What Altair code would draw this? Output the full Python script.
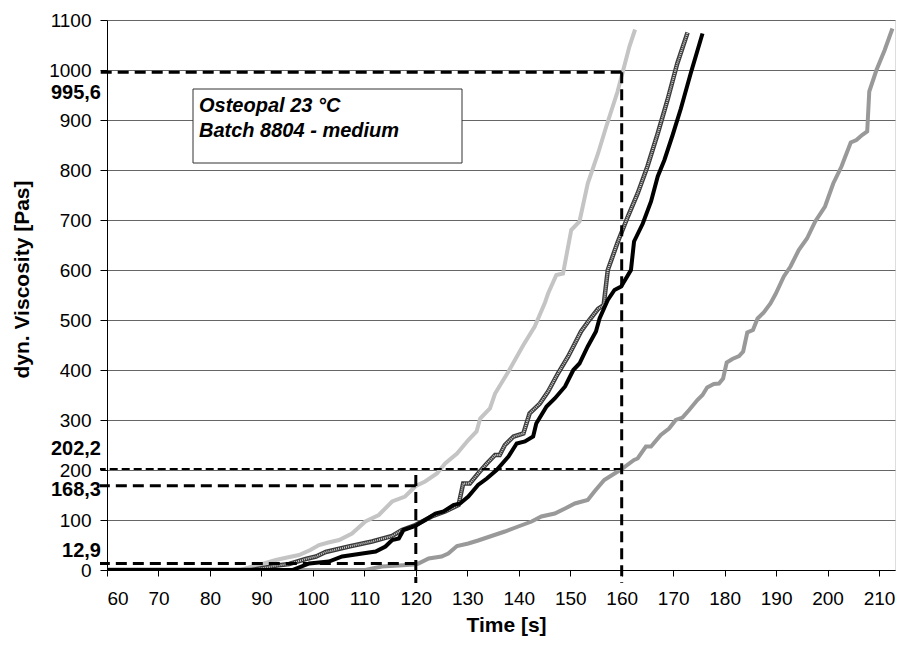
import altair as alt
import pandas as pd

# ---- data ----
lg_t = [60, 86, 88.3, 90.5, 92.8, 95, 97.3, 99.5, 101.2, 103, 105.1, 107.6, 110.2, 112.8, 115.4, 117.9,
        120, 121.8, 124.1, 125.7, 128.0, 130.2, 131.8, 132.5, 134.4, 135.4, 138.0, 140.9, 143.1, 145.1,
        145.7, 147.3, 148.6, 150.2, 151.8, 153.4, 155.4, 157.0, 159.2, 160.2, 161.5, 162.6]
lg_v = [0, 0, 7, 13, 20, 25, 30, 40, 50, 55, 60, 73, 97, 110, 137, 147,
        168, 177, 193, 213, 233, 260, 277, 303, 323, 353, 397, 450, 487, 535,
        553, 590, 593, 680, 697, 773, 833, 887, 957, 996, 1047, 1081]

ht_t = [60, 88, 90.9, 93, 95.4, 98.6, 100.6, 102.5, 107, 111.5, 115.4, 117.3, 119.9, 123.1, 125.7,
        128.3, 129.2, 130.5, 132.1, 133.8, 135.4, 136.3, 137.3, 139.0, 140.9, 142.1, 144.1, 145.7,
        147.6, 149.6, 150.9, 152.1, 153.7, 155.4, 156.5, 157.3, 159.2, 161.2, 163.1, 165.0, 167.0,
        168.9, 170.8, 172.8]
ht_v = [0, 0, 5, 9, 12, 22, 27, 36, 47, 57, 68, 80, 90, 107, 117,
        130, 173, 173, 193, 213, 230, 230, 250, 267, 273, 313, 333, 357,
        393, 427, 453, 477, 500, 522, 530, 600, 655, 707, 753, 807, 873,
        940, 1013, 1075]

bk_t = [60, 96, 99.3, 103.1, 105.7, 109.6, 112.2, 114.1, 115.4, 116.7, 117.6, 119.9, 121.8, 123.8,
        125.4, 127.3, 128.6, 130.2, 132.1, 133.8, 135.7, 138.0, 139.6, 141.2, 142.8, 143.4, 145.4,
        147.0, 149.0, 150.6, 151.8, 153.4, 155.0, 155.7, 157.3, 158.6, 159.9, 161.8, 162.4, 164.1,
        165.7, 167.0, 168.3, 169.9, 171.5, 173.4, 175.7]
bk_v = [0, 0, 13, 17, 27, 33, 37, 47, 60, 63, 80, 88, 100, 113,
        117, 130, 133, 147, 170, 183, 200, 227, 253, 257, 267, 293, 327,
        343, 367, 400, 413, 447, 477, 503, 540, 560, 567, 600, 657, 693,
        737, 787, 820, 870, 923, 993, 1073]

mg_t = [60, 110.2, 113.4, 116.7, 119.6, 120.5, 122.5, 125.0, 126.3, 128.0, 130.2, 132.1, 134.7, 137.3,
        139.9, 142.5, 144.4, 147.0, 149.0, 150.9, 153.4, 154.7, 156.6, 160.0, 162.4, 163.1, 164.7,
        165.7, 167.6, 169.2, 170.5, 171.8, 173.1, 174.7, 175.7, 176.6, 177.9, 178.9, 179.7, 180.4,
        181.5, 182.8, 183.6, 184.4, 185.5, 186.4, 187.6, 188.9, 189.9, 191.5, 192.8, 194.4, 196.0,
        197.6, 199.5, 201.1, 202.7, 204.5, 205.6, 206.7, 207.7, 208.1, 209.5, 211.1, 212.6]
mg_v = [0, 0, 7, 9, 11, 13, 23, 27, 33, 48, 53, 59, 68, 77,
        87, 97, 107, 113, 123, 133, 140, 157, 180, 202, 220, 223, 247,
        247, 270, 283, 300, 305, 320, 340, 350, 365, 372, 373, 383, 415,
        422, 428, 437, 475, 480, 503, 515, 533, 552, 587, 607, 640, 663,
        697, 727, 773, 807, 855, 860, 870, 877, 957, 1000, 1040, 1083]

# reference lines
href_t = [160, 160, 120, 120]
href_v = [995.6, 202.2, 168.3, 12.9]
href_label = ["995,6", "202,2", "168,3", "12,9"]
vref_t = [160, 120]
vref_top = [995.6, 190]

x_ticks = list(range(60, 211, 10))
y_ticks = list(range(0, 1101, 100))
box_lines = ["Osteopal 23 °C", "Batch 8804 - medium"]

FONT = "Liberation Sans"

xs = alt.Scale(domain=[60, 213.1], nice=False, zero=False)
ys = alt.Scale(domain=[0, 1100], nice=False)

x_axis = alt.Axis(values=x_ticks, format="d", grid=False, tickSize=6, tickColor="black",
                  domainColor="black", labelFontSize=19, labelColor="black", labelPadding=13,
                  labelFont=FONT, title="Time [s]", titleFontSize=21, titleFontWeight="bold",
                  titleFont=FONT, titleColor="black", titleX=399, titleY=61,
                  titleBaseline="alphabetic")
y_axis = alt.Axis(values=y_ticks, format="d", grid=True, gridColor="#666666", gridWidth=1, tickSize=7,
                  tickColor="black", domainColor="black", labelFontSize=19, labelColor="black",
                  labelPadding=9, labelFont=FONT, title="dyn. Viscosity [Pas]", titleFontSize=21,
                  titleFontWeight="bold", titleFont=FONT, titleColor="black", titleX=-85, titleY=259,
                  titleBaseline="middle")


def series(t, v, color, width, dash=None, axes=False):
    df = pd.DataFrame({"t": t, "v": v})
    kw = dict(color=color, strokeWidth=width, clip=True)
    if dash:
        kw["strokeDash"] = dash
    if axes:
        enc = dict(x=alt.X("t:Q", scale=xs, axis=x_axis), y=alt.Y("v:Q", scale=ys, axis=y_axis))
    else:
        enc = dict(x=alt.X("t:Q", scale=xs), y=alt.Y("v:Q", scale=ys))
    return alt.Chart(df).mark_line(**kw).encode(**enc)


one = pd.DataFrame({"a": [0]})
box = alt.Chart(one).mark_rect(fill="white", stroke="#333333", strokeWidth=1).encode(
    x=alt.value(86), x2=alt.value(355), y=alt.value(69), y2=alt.value(143))
box_t1 = alt.Chart(one).mark_text(align="left", baseline="alphabetic", fontSize=20, fontWeight="bold",
                                  fontStyle="italic", font=FONT, color="black").encode(
    x=alt.value(92), y=alt.value(92), text=alt.value(box_lines[0]))
box_t2 = alt.Chart(one).mark_text(align="left", baseline="alphabetic", fontSize=20, fontWeight="bold",
                                  fontStyle="italic", font=FONT, color="black").encode(
    x=alt.value(92), y=alt.value(117), text=alt.value(box_lines[1]))

lg = series(lg_t, lg_v, "#c4c4c4", 4, axes=True)
mg = series(mg_t, mg_v, "#999999", 4)
ht_base = series(ht_t, ht_v, "#3a3a3a", 4.5)
ht_top = series(ht_t, ht_v, "#d0d0d0", 2, dash=[1, 1])
bk = series(bk_t, bk_v, "black", 4)

href_df = pd.DataFrame({"t": href_t, "v": href_v, "label": href_label})
href_styles = [(3, [11, 6]), (2, [8, 4]), (3, [11, 6]), (3, [11, 6])]
label_dy = [21, -20, 4, -13]
hlayers = []
for i in range(len(href_t)):
    d = href_df.iloc[[i]]
    w, dsh = href_styles[i]
    hlayers.append(alt.Chart(d).mark_rule(color="black", strokeWidth=w, strokeDash=dsh).encode(
        x=alt.X("t:Q", scale=xs), x2=alt.value(-7), y=alt.Y("v:Q", scale=ys)))
    hlayers.append(alt.Chart(d).mark_text(align="right", baseline="middle", fontSize=20,
                                          fontWeight="bold", font=FONT, color="black",
                                          dy=label_dy[i]).encode(
        x=alt.value(-6), y=alt.Y("v:Q", scale=ys), text="label:N"))

vref_df = pd.DataFrame({"t": vref_t, "v": vref_top})
vlines = alt.Chart(vref_df).mark_rule(color="black", strokeWidth=3, strokeDash=[11, 6]).encode(
    x=alt.X("t:Q", scale=xs), y=alt.Y("v:Q", scale=ys), y2=alt.value(563))

chart = alt.layer(lg, box, box_t1, box_t2, mg, ht_base, ht_top, bk, *hlayers, vlines).properties(
    width=788, height=550, autosize=alt.AutoSizeParams(type="none"),
    padding={"left": 99, "top": 12, "right": 1, "bottom": 67},
).configure_view(stroke="black", strokeWidth=1).configure(font=FONT)

chart.save("out.html", embed_options={"renderer": "svg", "actions": False})
